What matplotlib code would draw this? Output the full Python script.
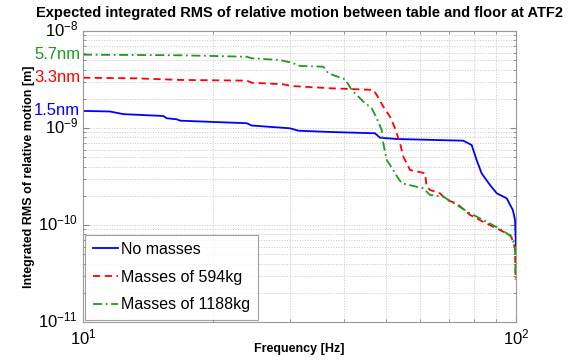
import numpy as np
import matplotlib
matplotlib.use('Agg')
import matplotlib.pyplot as plt
import matplotlib.transforms as mtransforms
from matplotlib.ticker import NullFormatter

plt.rcParams['font.family'] = ['Liberation Sans', 'DejaVu Sans']
plt.rcParams['mathtext.fontset'] = 'custom'
plt.rcParams['mathtext.rm'] = 'Liberation Sans'

# integrated RMS vs frequency, no masses
f_none = [10.0, 11.54, 12.39, 15.33, 15.61, 16.46, 16.75, 23.88, 24.53, 30.07,
          31.43, 37.19, 47.25, 48.52, 53.02, 75.54, 79.0, 81.1, 83.3, 87.1,
          90.3, 95.2, 98.3, 99.5, 99.8, 100.0]
rms_none = [1.50e-9, 1.48e-9, 1.39e-9, 1.33e-9, 1.26e-9, 1.23e-9, 1.19e-9, 1.12e-9, 1.06e-9, 9.93e-10,
            9.38e-10, 9.10e-10, 8.82e-10, 7.94e-10, 7.70e-10, 7.40e-10, 6.68e-10, 4.68e-10, 3.41e-10, 2.58e-10,
            2.12e-10, 1.88e-10, 1.43e-10, 1.13e-10, 7.57e-11, 5.52e-11]

# masses of 594 kg
f_594 = [10.0, 13.30, 16.75, 23.88, 24.53, 29.01, 30.34, 37.19, 46.82, 47.68,
         49.38, 51.17, 52.55, 53.97, 54.93, 56.92, 59.50, 61.65, 62.2, 63.3,
         66.76, 69.2, 72.95, 78.3, 84.0, 91.8, 96.9, 98.6, 99.5, 99.8]
rms_594 = [3.30e-9, 3.25e-9, 3.13e-9, 3.08e-9, 2.93e-9, 2.82e-9, 2.71e-9, 2.57e-9, 2.47e-9, 2.19e-9,
           1.66e-9, 1.31e-9, 9.93e-10, 6.95e-10, 5.06e-10, 3.69e-10, 3.54e-10, 3.41e-10, 2.48e-10, 2.30e-10,
           2.12e-10, 1.81e-10, 1.67e-10, 1.27e-10, 1.08e-10, 8.87e-11, 7.88e-11, 6.73e-11, 5.52e-11, 2.71e-11]

# masses of 1188 kg
f_1188 = [10.0, 16.75, 23.88, 24.53, 28.51, 30.34, 31.71, 35.89, 36.87, 40.28,
          41.74, 44.41, 46.42, 47.68, 48.96, 49.38, 50.28, 52.07, 52.55, 54.45,
          58.96, 61.09, 63.3, 67.94, 72.95, 78.3, 85.6, 92.7, 97.7, 99.5, 99.8]
rms_1188 = [5.70e-9, 5.62e-9, 5.43e-9, 5.23e-9, 5.02e-9, 4.71e-9, 4.36e-9, 4.29e-9, 3.66e-9, 3.18e-9,
            2.47e-9, 1.87e-9, 1.60e-9, 1.26e-9, 9.53e-10, 6.95e-10, 4.68e-10, 3.69e-10, 3.41e-10, 2.69e-10,
            2.48e-10, 2.39e-10, 2.04e-10, 1.96e-10, 1.61e-10, 1.32e-10, 1.08e-10, 8.87e-11, 7.57e-11, 5.97e-11, 2.71e-11]

labels = ['No masses', 'Masses of 594kg', 'Masses of 1188kg']
totals = ['1.5nm', '3.3nm', '5.7nm']
total_vals = [1.5e-9, 3.3e-9, 5.7e-9]
x_ticks = [10, 100]
y_ticks = [1e-11, 1e-10, 1e-9, 1e-8]

blue = '#0000ff'
red = '#ff0000'
green = '#1f9a1f'

fig = plt.figure(figsize=(5.71, 3.6), dpi=100)
ax = fig.add_axes([83/571, 38/360, 433/571, 291/360])

ax.loglog(f_none, rms_none, color=blue, lw=1.3, ls='-', label=labels[0])
ax.loglog(f_594, rms_594, color=red, lw=1.3, ls=(0, (4, 2.5)), label=labels[1])
ax.loglog(f_1188, rms_1188, color=green, lw=1.3, ls=(0, (5, 2, 1, 2)), label=labels[2])

ax.set_xlim(10, 100)
ax.set_ylim(1e-11, 1e-8)
ax.set_xticks(x_ticks)
ax.set_yticks(y_ticks)
ax.xaxis.set_minor_formatter(NullFormatter())
ax.yaxis.set_minor_formatter(NullFormatter())

ax.grid(True, which='both', ls=':', color='#c8c8c8', lw=0.7)
ax.tick_params(which='both', direction='in', top=True, right=True, colors='#888888',
               labelcolor='black', labelsize=12)
ax.tick_params(which='major', length=4)
ax.tick_params(which='minor', length=2)
ax.tick_params(axis='x', pad=4)

# lift the y tick labels a little so 10^-11 clears 10^1
lift = mtransforms.ScaledTranslation(0, 3/100, fig.dpi_scale_trans)
for lab in ax.get_yticklabels():
    lab.set_transform(lab.get_transform() + lift)

for sp in ax.spines.values():
    sp.set_color('#999999')

ax.set_title('Expected integrated RMS of relative motion between table and floor at ATF2',
             fontsize=10.5, fontweight='bold', pad=10)
ax.set_xlabel('Frequency [Hz]', fontsize=9, fontweight='bold')
ax.xaxis.set_label_coords(0.5, -0.072)
ax.set_ylabel('Integrated RMS of relative motion [m]', fontsize=9, fontweight='bold', labelpad=2)

for txt, val, col in zip(totals, total_vals, [blue, red, green]):
    ax.annotate(txt, xy=(10, val), xytext=(-2, 0), textcoords='offset points',
                ha='right', va='center', color=col, fontsize=12, annotation_clip=False)

leg = ax.legend(loc='lower left', fontsize=11.5, frameon=True, fancybox=False,
                borderaxespad=0.15, handlelength=1.6, handletextpad=0.2,
                labelspacing=0.8, borderpad=0.45)
leg.get_frame().set_edgecolor('#888888')
leg.get_frame().set_linewidth(0.8)

fig.savefig('out.png', dpi=100)
